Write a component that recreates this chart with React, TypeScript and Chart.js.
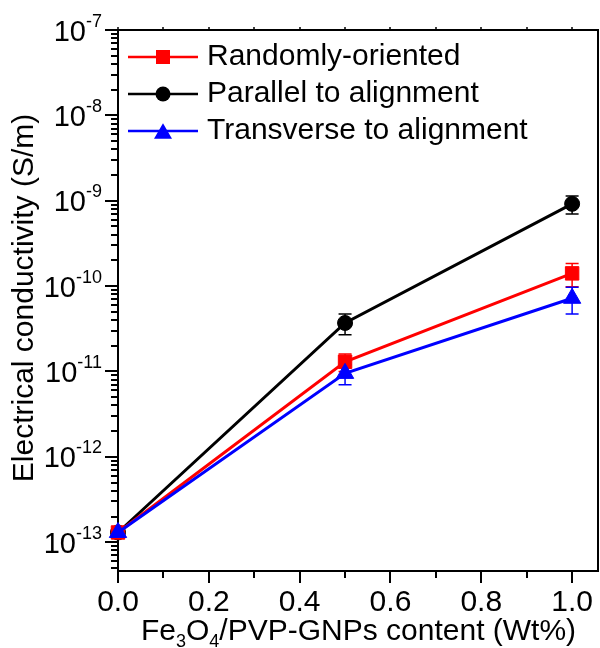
import React, { useEffect, useRef } from 'react';
import { Chart, registerables } from 'chart.js';

Chart.register(...registerables);

// ---- data ----
const xValues = [0, 0.5, 1.0];
const randomValues = [1.3e-13, 1.3e-11, 1.41e-10];
const randomErrors = [0, 0.3e-11, 0.43e-10];
const parallelValues = [1.3e-13, 3.7e-11, 9.2e-10];
const parallelErrors = [0, 1.0e-11, 2.2e-10];
const transverseValues = [1.3e-13, 9.5e-12, 7.2e-11];
const transverseErrors = [0, 2.5e-12, 2.5e-11];
const seriesNames = ['Randomly-oriented', 'Parallel to alignment', 'Transverse to alignment'];
const xTickValues = [0, 0.2, 0.4, 0.6, 0.8, 1.0];
const xTickLabels = ['0.0', '0.2', '0.4', '0.6', '0.8', '1.0'];
const xMinorTickValues = [0.1, 0.3, 0.5, 0.7, 0.9];
const yDecadeExponents = [-7, -8, -9, -10, -11, -12, -13];
const yTickBase = '10';
const yTitle = 'Electrical conductivity (S/m)';
const xTitleParts = [
  { t: 'Fe', sub: false },
  { t: '3', sub: true },
  { t: 'O', sub: false },
  { t: '4', sub: true },
  { t: '/PVP-GNPs content (Wt%)', sub: false },
];

const FONT = '"Liberation Sans", Arial, Helvetica, sans-serif';
const RED = '#ff0000';
const BLACK = '#000000';
const BLUE = '#0000ff';

function drawMarker(ctx: CanvasRenderingContext2D, style: string, x: number, y: number, size: number, color: string) {
  ctx.save();
  ctx.fillStyle = color;
  ctx.beginPath();
  if (style === 'rect') {
    ctx.rect(x - size / 2, y - size / 2, size, size);
  } else if (style === 'circle') {
    ctx.arc(x, y, size / 2, 0, Math.PI * 2);
  } else {
    const r = size / Math.sqrt(3);
    for (let k = 0; k < 3; k++) {
      const a = (k * 2 * Math.PI) / 3;
      const px = x + Math.sin(a) * r;
      const py = y - Math.cos(a) * r + r * 0.25;
      if (k === 0) ctx.moveTo(px, py);
      else ctx.lineTo(px, py);
    }
    ctx.closePath();
  }
  ctx.fill();
  ctx.restore();
}

const decorPlugin = {
  id: 'decor',
  beforeDatasetsDraw(chart: any) {
    const ctx: CanvasRenderingContext2D = chart.ctx;
    const xs = chart.scales.x;
    const ys = chart.scales.y;
    ctx.save();
    chart.data.datasets.forEach((ds: any) => {
      const errs: number[] = ds.errors || [];
      ctx.strokeStyle = ds.borderColor;
      ctx.lineWidth = 1.5;
      ds.data.forEach((p: any, i: number) => {
        const e = errs[i];
        if (!e) return;
        const px = xs.getPixelForValue(p.x);
        const top = ys.getPixelForValue(p.y + e);
        const bot = ys.getPixelForValue(p.y - e);
        ctx.beginPath();
        ctx.moveTo(px, top);
        ctx.lineTo(px, bot);
        ctx.moveTo(px - 6.5, top);
        ctx.lineTo(px + 6.5, top);
        ctx.moveTo(px - 6.5, bot);
        ctx.lineTo(px + 6.5, bot);
        ctx.stroke();
      });
    });
    ctx.restore();
  },
  afterDraw(chart: any) {
    const ctx: CanvasRenderingContext2D = chart.ctx;
    const xs = chart.scales.x;
    const ys = chart.scales.y;
    const { left, right, top, bottom } = chart.chartArea;
    ctx.save();
    ctx.strokeStyle = BLACK;
    ctx.fillStyle = BLACK;

    // top and right frame
    ctx.lineWidth = 2;
    ctx.beginPath();
    ctx.moveTo(left - 1, top);
    ctx.lineTo(right, top);
    ctx.moveTo(right, top - 1);
    ctx.lineTo(right, bottom + 1);
    ctx.stroke();

    // bottom ticks
    ctx.beginPath();
    xTickValues.forEach((v) => {
      const px = Math.round(xs.getPixelForValue(v));
      ctx.moveTo(px, bottom);
      ctx.lineTo(px, bottom + 12);
    });
    xMinorTickValues.forEach((v) => {
      const px = Math.round(xs.getPixelForValue(v));
      ctx.moveTo(px, bottom);
      ctx.lineTo(px, bottom + 7);
    });
    ctx.stroke();

    // tiny top ticks
    ctx.lineWidth = 1.5;
    ctx.beginPath();
    [...xTickValues, ...xMinorTickValues].forEach((v) => {
      const px = Math.round(xs.getPixelForValue(v));
      ctx.moveTo(px, top);
      ctx.lineTo(px, top - 3);
    });
    ctx.stroke();

    // left ticks
    ctx.lineWidth = 2;
    ctx.beginPath();
    const yMin = ys.min;
    const yMax = ys.max;
    for (let k = -14; k <= -7; k++) {
      for (let m = 1; m <= 9; m++) {
        const v = m * Math.pow(10, k);
        if (v < yMin * 0.999 || v > yMax * 1.001) continue;
        const py = Math.round(ys.getPixelForValue(v));
        ctx.moveTo(left, py);
        ctx.lineTo(left - (m === 1 ? 13 : 7), py);
      }
    }
    ctx.stroke();

    // x tick labels
    ctx.font = `30px ${FONT}`;
    ctx.textAlign = 'center';
    ctx.textBaseline = 'alphabetic';
    xTickValues.forEach((v, i) => {
      ctx.fillText(xTickLabels[i], xs.getPixelForValue(v), 611);
    });

    // y tick labels with superscripts
    yDecadeExponents.forEach((e) => {
      const py = ys.getPixelForValue(Math.pow(10, e));
      const sup = String(e);
      ctx.font = `18px ${FONT}`;
      ctx.textAlign = 'right';
      const wSup = ctx.measureText(sup).width;
      ctx.fillText(sup, 102, py - 3.5);
      ctx.font = `29px ${FONT}`;
      ctx.fillText(yTickBase, 102 - wSup, py + 10.5);
    });

    // y title
    ctx.save();
    ctx.translate(33, 298);
    ctx.rotate(-Math.PI / 2);
    ctx.font = `30px ${FONT}`;
    ctx.textAlign = 'center';
    ctx.textBaseline = 'alphabetic';
    ctx.fillText(yTitle, 0, 0);
    ctx.restore();

    // x title with subscripts
    ctx.textAlign = 'left';
    let cx = 141;
    xTitleParts.forEach((p) => {
      ctx.font = p.sub ? `18px ${FONT}` : `30px ${FONT}`;
      ctx.fillText(p.t, cx, p.sub ? 647 : 640);
      cx += ctx.measureText(p.t).width;
    });

    // legend
    const rows = [57, 94, 131];
    const styles = ['rect', 'circle', 'triangle'];
    const colors = [RED, BLACK, BLUE];
    const sizes = [14, 15, 18];
    rows.forEach((ry, i) => {
      ctx.strokeStyle = colors[i];
      ctx.lineWidth = 2.5;
      ctx.beginPath();
      ctx.moveTo(128, ry);
      ctx.lineTo(198, ry);
      ctx.stroke();
      drawMarker(ctx, styles[i], 163, ry, sizes[i], colors[i]);
      ctx.fillStyle = BLACK;
      ctx.font = `30px ${FONT}`;
      ctx.textAlign = 'left';
      ctx.fillText(seriesNames[i], 207, ry + 8);
    });

    ctx.restore();
  },
};

export default function App() {
  const canvasRef = useRef<HTMLCanvasElement | null>(null);

  useEffect(() => {
    const canvas = canvasRef.current;
    if (!canvas) return;
    const mk = (vals: number[]) => xValues.map((x, i) => ({ x, y: vals[i] }));
    const chart = new Chart(canvas, {
      type: 'line',
      data: {
        datasets: [
          {
            label: seriesNames[0],
            data: mk(randomValues),
            errors: randomErrors,
            borderColor: RED,
            backgroundColor: RED,
            pointBackgroundColor: RED,
            pointBorderColor: RED,
            borderWidth: 3,
            pointStyle: 'rect',
            pointRadius: 9.5,
            pointBorderWidth: 1,
            clip: false,
            order: 1,
          } as any,
          {
            label: seriesNames[1],
            data: mk(parallelValues),
            errors: parallelErrors,
            borderColor: BLACK,
            backgroundColor: BLACK,
            pointBackgroundColor: BLACK,
            pointBorderColor: BLACK,
            borderWidth: 3,
            pointStyle: 'circle',
            pointRadius: 7.5,
            pointBorderWidth: 1,
            clip: false,
            order: 2,
          } as any,
          {
            label: seriesNames[2],
            data: mk(transverseValues),
            errors: transverseErrors,
            borderColor: BLUE,
            backgroundColor: BLUE,
            pointBackgroundColor: BLUE,
            pointBorderColor: BLUE,
            borderWidth: 3,
            pointStyle: 'triangle',
            pointRadius: 10,
            pointBorderWidth: 1,
            clip: false,
            order: 0,
          } as any,
        ],
      },
      options: {
        animation: false,
        responsive: false,
        devicePixelRatio: 1,
        events: [],
        layout: { autoPadding: false, padding: { top: 30, right: 2, left: 0, bottom: 0 } },
        plugins: { legend: { display: false }, tooltip: { enabled: false } },
        scales: {
          x: {
            type: 'linear',
            min: 0,
            max: 1.057,
            ticks: { display: false },
            grid: { display: false, drawTicks: false },
            border: { display: true, color: BLACK, width: 2 },
            afterFit: (s: any) => {
              s.height = 77;
            },
          },
          y: {
            type: 'logarithmic',
            min: 4.6e-14,
            max: 1e-7,
            ticks: { display: false },
            grid: { display: false, drawTicks: false },
            border: { display: true, color: BLACK, width: 2 },
            afterFit: (s: any) => {
              s.width = 118;
            },
          },
        },
      } as any,
      plugins: [decorPlugin],
    });
    return () => chart.destroy();
  }, []);

  return (
    <div style={{ position: 'fixed', left: 0, top: 0, width: 600, height: 648, background: '#fff' }}>
      <canvas ref={canvasRef} width={600} height={648} style={{ display: 'block' }} />
    </div>
  );
}
